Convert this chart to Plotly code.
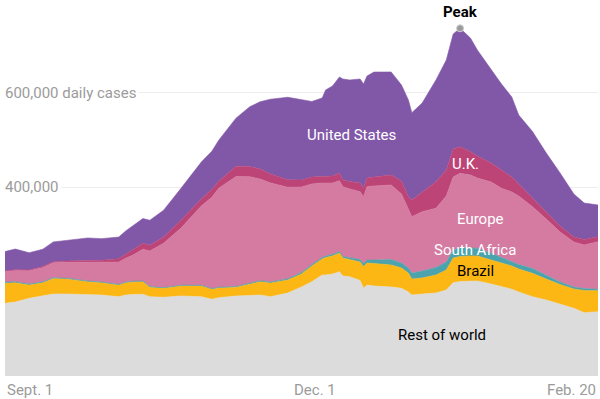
import plotly.graph_objects as go

dates = ["2020-09-01","2020-09-04","2020-09-08","2020-09-12","2020-09-15","2020-09-19","2020-09-25","2020-09-29",
         "2020-10-04","2020-10-06","2020-10-08","2020-10-11","2020-10-13","2020-10-17","2020-10-22","2020-10-28",
         "2020-10-31","2020-11-02","2020-11-07","2020-11-11","2020-11-14","2020-11-17","2020-11-22","2020-11-26",
         "2020-11-29","2020-12-02","2020-12-03","2020-12-05","2020-12-07","2020-12-08","2020-12-10","2020-12-13",
         "2020-12-14","2020-12-15","2020-12-17","2020-12-22","2020-12-25","2020-12-27","2020-12-28","2020-12-31",
         "2021-01-04","2021-01-07","2021-01-09","2021-01-11","2021-01-14","2021-01-16","2021-01-20","2021-01-23",
         "2021-01-26","2021-01-28","2021-02-01","2021-02-05","2021-02-09","2021-02-13","2021-02-16","2021-02-20"]

# daily cases, thousands
rest_of_world = [153.9,156.6,164.4,170.4,173.5,173.5,171.4,171.4,167.8,171.4,
                 172.5,172.9,167.8,166.6,169.3,167.8,162.3,165.7,169.3,170.4,
                 171.4,167.8,175.7,188.4,199.6,213.8,213.8,215.9,220.7,211.6,
                 210.2,202.1,185.6,192.6,190.5,188.4,185.6,177.8,171.4,173.5,
                 175.7,182.0,197.5,200.0,201.1,201.1,194.7,189.4,183.5,177.8,
                 167.8,160.8,152.4,143.3,134.0,136.1]
brazil = [42.3,40.8,28.1,27.1,32.8,31.7,28.1,26.0,24.8,26.0,
          26.5,26.7,19.9,19.0,21.2,22.6,21.2,20.5,18.4,24.3,
          28.1,29.0,27.5,27.5,33.2,33.9,37.0,38.1,39.6,38.1,
          36.4,39.2,46.1,46.6,47.6,46.6,43.0,40.2,33.9,33.9,
          38.1,42.3,52.3,52.9,52.9,52.9,50.8,49.7,49.3,48.7,
          49.5,44.4,41.3,40.8,47.0,44.4]
south_africa = [2.4,2.2,2.0,1.8,1.8,1.7,1.6,1.5,1.4,1.5,
                1.6,1.6,1.5,1.6,1.7,1.6,1.7,1.8,1.9,2.0,
                2.2,2.4,2.6,3.2,3.2,3.2,3.2,3.2,3.2,3.2,
                3.2,5.3,6.3,6.3,7.4,11.6,10.6,10.6,12.7,14.8,
                15.9,16.9,16.9,18.0,16.9,16.3,14.2,11.6,10.6,9.5,
                10.2,7.4,5.3,4.2,4.2,3.0]
europe = [22.9,23.7,28.6,30.5,31.7,33.9,39.6,41.7,47.2,50.2,
          55.0,67.1,75.3,93.8,120.6,168.3,193.2,209.5,232.4,225.0,
          215.2,209.5,193.7,181.0,170.4,157.7,154.5,151.3,149.8,147.7,
          146.0,143.5,141.4,155.1,156.6,157.7,146.0,122.8,119.2,125.5,
          125.3,139.7,154.5,158.1,154.5,148.8,150.9,146.5,146.0,145.0,
          130.8,119.6,105.8,95.2,92.1,100.7]
uk = [1.5,1.5,1.5,1.7,2.1,2.8,3.6,4.2,7.2,8.5,
      10.6,12.7,12.1,13.3,16.9,14.8,16.9,14.8,22.2,21.6,
      21.2,19.0,15.9,14.8,14.8,13.8,13.8,14.8,16.3,14.2,
      15.9,18.4,18.4,18.4,19.0,21.2,27.5,28.1,35.3,42.3,
      56.3,55.0,59.3,56.3,49.3,46.6,40.2,38.7,31.7,25.4,
      18.4,15.9,12.7,10.6,11.6,10.6]
united_states = [40.4,44.0,36.2,37.0,41.9,43.8,47.8,45.9,45.7,49.3,
                 50.8,52.3,52.9,56.5,67.1,78.3,80.4,86.8,101.6,126.6,
                 142.4,158.1,174.6,169.3,159.8,166.1,183.1,190.5,203.2,213.8,
                 214.8,220.1,220.1,215.9,222.2,218.0,203.2,204.7,184.8,187.7,
                 215.2,232.8,243.4,250.6,240.6,224.3,196.8,182.0,169.3,146.0,
                 140.7,123.8,112.2,91.0,77.2,67.1]

series = [
    ("Rest of world", rest_of_world, "#dcdcdc"),
    ("Brazil", brazil, "#fdb714"),
    ("South Africa", south_africa, "#4ba4ad"),
    ("Europe", europe, "#d57ba2"),
    ("U.K.", uk, "#bd4477"),
    ("United States", united_states, "#8157a8"),
]

FONT = "Roboto"
fig = go.Figure()
for name, vals, col in series:
    fig.add_trace(go.Scatter(
        x=dates, y=[v * 1000 for v in vals], name=name, stackgroup="one",
        mode="lines", line=dict(width=0.6, color=col), fillcolor=col,
        hoverinfo="skip", showlegend=False))

totals = [sum(s[1][i] for s in series) * 1000 for i in range(len(dates))]
pk = max(range(len(totals)), key=lambda i: totals[i])
fig.add_trace(go.Scatter(x=[dates[pk]], y=[totals[pk]], mode="markers",
                         marker=dict(size=7, color="#9a9a9a", line=dict(width=1, color="#d0d0d0")),
                         hoverinfo="skip", showlegend=False))

anns = []
gray = "#9b9b9b"
anns.append(dict(x=0, xref="paper", y=600000, yref="y", text="600,000 daily cases", showarrow=False,
                 xanchor="left", yanchor="middle", xshift=-3, bgcolor="white", borderpad=2,
                 font=dict(family=FONT, size=15, color=gray)))
anns.append(dict(x=0, xref="paper", y=400000, yref="y", text="400,000", showarrow=False,
                 xanchor="left", yanchor="middle", xshift=-3, bgcolor="white", borderpad=2,
                 font=dict(family=FONT, size=15, color=gray)))
for d, t, anc, sh in [("2020-09-01", "Sept. 1", "left", 0), ("2020-12-01", "Dec. 1", "center", -4),
                      ("2021-02-20", "Feb. 20", "right", 0)]:
    anns.append(dict(x=d, y=0, yref="y", text=t, showarrow=False, xanchor=anc, yanchor="top",
                     xshift=sh, yshift=-3, font=dict(family=FONT, size=15, color=gray)))

labels = [
    ("United States", "2020-12-10 14:00", 510000, "white"),
    ("U.K.", "2021-01-12 14:00", 448000, "white"),
    ("Europe", "2021-01-17", 332000, "white"),
    ("South Africa", "2021-01-15 08:00", 266000, "white"),
    ("Brazil", "2021-01-15 08:00", 222000, "black"),
    ("Rest of world", "2021-01-05 19:00", 87000, "black"),
]
for t, x, y, c in labels:
    anns.append(dict(x=x, y=y, text=t, showarrow=False, xanchor="center", yanchor="middle",
                     font=dict(family=FONT, size=15, color=c)))
anns.append(dict(x=dates[pk], y=totals[pk], text="<b>Peak</b>", showarrow=False, xanchor="center",
                 yanchor="bottom", yshift=5, font=dict(family=FONT, size=15, color="black")))

fig.update_layout(
    width=600, height=399, margin=dict(l=5, r=2, t=7, b=23),
    paper_bgcolor="white", plot_bgcolor="white",
    xaxis=dict(range=["2020-09-01", "2021-02-20"], showgrid=False, showticklabels=False,
               zeroline=False, showline=False, ticks=""),
    yaxis=dict(range=[0, 781000], tickvals=[400000, 600000], showticklabels=False,
               showgrid=True, gridcolor="#ededed", gridwidth=1, zeroline=False, showline=False),
    annotations=anns, hovermode=False,
)
fig.write_html("out.html", config={"displayModeBar": False, "staticPlot": True},
               post_script="document.body.style.margin='0';document.body.style.padding='0';"
                           "document.body.style.overflow='hidden';")
